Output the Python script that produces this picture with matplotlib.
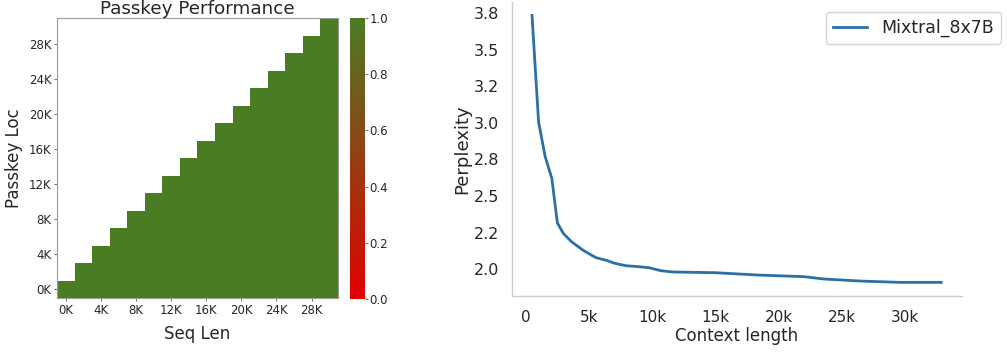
import matplotlib
matplotlib.use("Agg")
import matplotlib.pyplot as plt
import numpy as np
from matplotlib.colors import LinearSegmentedColormap

# passkey retrieval: x = sequence length, y = passkey location (K tokens)
seq_len_labels = ['0K', '4K', '8K', '12K', '16K', '20K', '24K', '28K']
loc_labels = ['0K', '4K', '8K', '12K', '16K', '20K', '24K', '28K']
seq_len_k = [0, 2, 4, 6, 8, 10, 12, 14, 16, 18, 20, 22, 24, 26, 28, 30]
loc_k = [0, 2, 4, 6, 8, 10, 12, 14, 16, 18, 20, 22, 24, 26, 28, 30]
n = np.nan
# rows = passkey location (bottom row first), cols = sequence length
passkey_acc = [
    [1, 1, 1, 1, 1, 1, 1, 1, 1, 1, 1, 1, 1, 1, 1, 1],
    [n, 1, 1, 1, 1, 1, 1, 1, 1, 1, 1, 1, 1, 1, 1, 1],
    [n, n, 1, 1, 1, 1, 1, 1, 1, 1, 1, 1, 1, 1, 1, 1],
    [n, n, n, 1, 1, 1, 1, 1, 1, 1, 1, 1, 1, 1, 1, 1],
    [n, n, n, n, 1, 1, 1, 1, 1, 1, 1, 1, 1, 1, 1, 1],
    [n, n, n, n, n, 1, 1, 1, 1, 1, 1, 1, 1, 1, 1, 1],
    [n, n, n, n, n, n, 1, 1, 1, 1, 1, 1, 1, 1, 1, 1],
    [n, n, n, n, n, n, n, 1, 1, 1, 1, 1, 1, 1, 1, 1],
    [n, n, n, n, n, n, n, n, 1, 1, 1, 1, 1, 1, 1, 1],
    [n, n, n, n, n, n, n, n, n, 1, 1, 1, 1, 1, 1, 1],
    [n, n, n, n, n, n, n, n, n, n, 1, 1, 1, 1, 1, 1],
    [n, n, n, n, n, n, n, n, n, n, n, 1, 1, 1, 1, 1],
    [n, n, n, n, n, n, n, n, n, n, n, n, 1, 1, 1, 1],
    [n, n, n, n, n, n, n, n, n, n, n, n, n, 1, 1, 1],
    [n, n, n, n, n, n, n, n, n, n, n, n, n, n, 1, 1],
    [n, n, n, n, n, n, n, n, n, n, n, n, n, n, n, 1],
]

# perplexity curve
ctx_len = [470, 990, 1510, 2040, 2480, 2950, 3600, 4500, 5170, 5570, 6350, 7000,
           7900, 8960, 9750, 10670, 11600, 15000, 18400, 22000, 23600, 26500,
           29600, 32900]
ppl = [3.736, 3.007, 2.77, 2.62, 2.316, 2.244, 2.187, 2.13, 2.096, 2.077, 2.06,
       2.04, 2.023, 2.016, 2.009, 1.989, 1.98, 1.975, 1.959, 1.948, 1.932, 1.918,
       1.909, 1.909]

text_c = '#262626'
fig = plt.figure(figsize=(10.07, 3.53), dpi=100)

# ---- heatmap
ax1 = fig.add_axes([0.0566, 0.1558, 0.279, 0.793])
cax = fig.add_axes([0.3476, 0.153, 0.0149, 0.796])
cmap = LinearSegmentedColormap.from_list('rg', ['#e00000', '#4a7d23'])
acc = np.ma.masked_invalid(np.array(passkey_acc, dtype=float))
mesh = ax1.pcolormesh(np.arange(len(seq_len_k) + 1), np.arange(len(loc_k) + 1), acc,
                      cmap=cmap, vmin=0, vmax=1)
ax1.set_xlim(0, len(seq_len_k))
ax1.set_ylim(0, len(loc_k))
ax1.set_xticks(np.arange(0, len(seq_len_k), 2) + 0.5)
ax1.set_xticklabels(seq_len_labels)
ax1.set_yticks(np.arange(0, len(loc_k), 2) + 0.5)
ax1.set_yticklabels(loc_labels)
ax1.tick_params(labelsize=8.5, length=2, width=0.6, color='#555555', labelcolor=text_c, pad=2)
for s in ax1.spines.values():
    s.set_color('#999999')
    s.set_linewidth(0.8)
ax1.set_xlabel('Seq Len', fontsize=12, color=text_c, labelpad=6)
ax1.set_ylabel('Passkey Loc', fontsize=12, color=text_c, labelpad=4)
ax1.set_title('Passkey Performance', fontsize=13.2, color=text_c, pad=1)

cb = fig.colorbar(mesh, cax=cax)
cb.outline.set_visible(False)
cb.set_ticks([0.0, 0.2, 0.4, 0.6, 0.8, 1.0])
cb.ax.tick_params(labelsize=8.5, length=2, width=0.6, color='#555555', labelcolor=text_c, pad=1)

# ---- perplexity
ax2 = fig.add_axes([0.508, 0.1623, 0.447, 0.832])
ax2.plot(ctx_len, ppl, color='#2a6fa8', lw=2, label='Mixtral_8x7B')
ax2.set_yticks([2.0, 2.25, 2.5, 2.75, 3.0, 3.25, 3.5, 3.75])
ax2.yaxis.set_major_formatter(matplotlib.ticker.FormatStrFormatter('%.1f'))
ax2.set_xticks([0, 5000, 10000, 15000, 20000, 25000, 30000])
ax2.set_xticklabels(['0', '5k', '10k', '15k', '20k', '25k', '30k'])
ax2.tick_params(axis='x', labelsize=11, length=0, labelcolor=text_c, pad=10)
ax2.tick_params(axis='y', labelsize=11.5, length=0, labelcolor=text_c, pad=9)
for side in ['top', 'right']:
    ax2.spines[side].set_visible(False)
for side in ['left', 'bottom']:
    ax2.spines[side].set_color('#cccccc')
    ax2.spines[side].set_linewidth(1)
ax2.set_xlabel('Context length', fontsize=12, color=text_c, labelpad=2)
ax2.set_ylabel('Perplexity', fontsize=13, color=text_c, labelpad=2)
leg = ax2.legend(loc='upper right', bbox_to_anchor=(1.087, 0.967), borderaxespad=0,
                 fontsize=12.5, frameon=True, fancybox=True)
leg.get_frame().set_edgecolor('#cccccc')
for t in leg.get_texts():
    t.set_color(text_c)

fig.savefig('out.png', dpi=100)
